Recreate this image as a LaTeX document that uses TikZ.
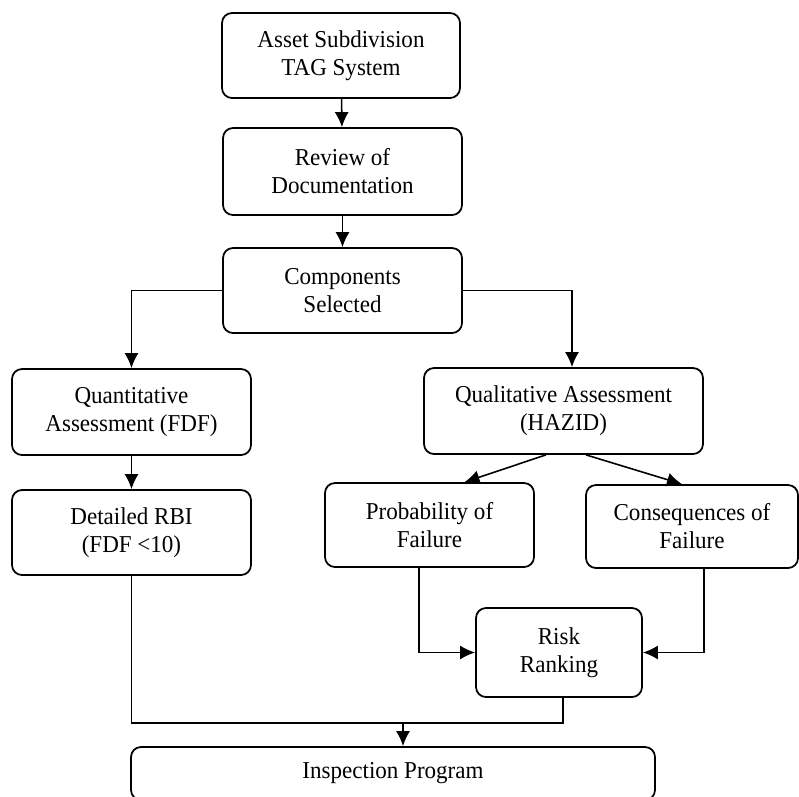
\documentclass[tikz,border=0pt]{standalone}
\usepackage{fontspec}
\setmainfont{Liberation Serif}[FakeStretch=0.95]
\usetikzlibrary{arrows.meta, positioning, calc}

\begin{document}
\begin{tikzpicture}[>={Latex[length=3mm, width=2.8mm]},
    box/.style={draw, line width=1pt, rounded corners=0.2cm, align=center,
        inner sep=0pt, font=\fontsize{13.8}{16}\selectfont},
    link/.style={->, line width=0.9pt}]
        \useasboundingbox (0, 0) rectangle (15.98, -15.92);
        \clip (0, 0) rectangle (15.98, -15.92);
        % Top column
        \node[box, minimum width=4.76cm, minimum height=1.70cm] (asset) at (6.82, -1.11) {Asset Subdivision\\TAG System};
        \node[box, minimum width=4.78cm, minimum height=1.74cm] (review) at (6.85, -3.43) {Review of\\Documentation};
        \node[box, minimum width=4.78cm, minimum height=1.70cm] (comp) at (6.85, -5.81) {Components\\Selected};
        % Left branch
        \node[box, minimum width=4.78cm, minimum height=1.72cm] (quant) at (2.63, -8.24) {Quantitative\\Assessment (FDF)};
        \node[box, minimum width=4.78cm, minimum height=1.70cm] (detail) at (2.63, -10.65) {Detailed RBI\\(FDF <10)};
        % Right branch
        \node[box, minimum width=5.58cm, minimum height=1.72cm] (qual) at (11.27, -8.22) {Qualitative Assessment\\(HAZID)};
        \node[box, minimum width=4.18cm, minimum height=1.68cm] (prob) at (8.59, -10.50) {Probability of\\Failure};
        \node[box, minimum width=4.24cm, minimum height=1.66cm] (cons) at (13.84, -10.53) {Consequences of\\Failure};
        \node[box, minimum width=3.32cm, minimum height=1.78cm] (risk) at (11.18, -13.05) {Risk\\Ranking};
        % Bottom
        \node[box, minimum width=10.48cm, minimum height=1.06cm] (insp) at (7.86, -15.47) {Inspection Program};
        \coordinate (merge) at (8.06, -14.46);

        % Connectors
        \draw[link] (asset) -- (review);
        \draw[link] (review) -- (comp);
        \draw[link] (comp.west) -| (quant.north);
        \draw[link] (comp.east) -| ([xshift=0.17cm]qual.north);
        \draw[link] (quant) -- (detail);
        \draw[link] ([xshift=-0.35cm]qual.south) -- ([xshift=0.7cm]prob.north);
        \draw[link] ([xshift=0.45cm]qual.south) -- ([xshift=-0.2cm]cons.north);
        \draw[link] ([xshift=-0.21cm]prob.south) |- (risk.west);
        \draw[link] ([xshift=0.24cm]cons.south) |- (risk.east);
        \draw[line width=0.9pt] (detail.south) |- (merge) -| ([xshift=0.08cm]risk.south);
        \draw[link] (merge) -- (merge |- insp.north);
    \end{tikzpicture}
\end{document}
